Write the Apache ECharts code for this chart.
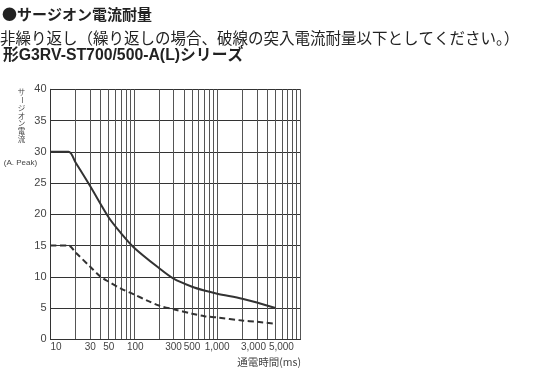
<!DOCTYPE html>
<html><head><meta charset="utf-8">
<script src="https://cdn.jsdelivr.net/npm/echarts@6/dist/echarts.min.js"></script>
<style>html,body{margin:0;padding:0;background:#fff}#c{width:547px;height:378px}</style>
</head><body><div id="c"></div>
<script>
// ---- text ----
const titleMain = '●サージオン電流耐量';
const titleNote = '非繰り返し（繰り返しの場合、破線の突入電流耐量以下としてください。）';
const titleModel = '形G3RV-ST700/500-A(L)シリーズ';
const yTitle = 'サージオン電流';
const yUnit = '(A. Peak)';
const xTitle = '通電時間(ms)';

// ---- data (time in ms, current in A peak) ----
const solidTime    = [10, 16.5, 20, 30, 50, 70, 100, 200, 300, 500, 700, 1000, 2000, 3000, 5000];
const solidCurrent = [30, 30, 28.3, 24.5, 19.5, 17, 14.7, 11.4, 9.7, 8.4, 7.8, 7.3, 6.5, 5.9, 5.0];
const dashTime     = [10, 16.5, 20, 30, 40, 50, 70, 100, 150, 200, 300, 500, 700, 1000, 2000, 3000, 5000];
const dashCurrent  = [15, 15, 13.9, 11.6, 10, 9.2, 8.1, 7.2, 6.1, 5.4, 4.8, 4.1, 3.7, 3.5, 3.0, 2.8, 2.5];

// ---- ticks ----
const xGridValues = [10,20,30,40,50,60,70,80,90,100,200,300,400,500,600,700,800,900,1000,2000,3000,4000,5000,6000,7000,8000,9000,10000];
const xLabelValues = [10, 30, 50, 100, 300, 500, 1000, 3000, 5000];
const yMin = 0, yMax = 40, yStep = 5;

const zip = (a, b) => a.map((v, i) => [v, b[i]]);
const fmtNum = v => String(Math.round(v)).replace(/\B(?=(\d{3})+(?!\d))/g, ',');

const chart = echarts.init(document.getElementById('c'), null, {renderer: 'canvas'});

const gridLeft = 50.5, gridTop = 89.3, gridRight = 246.5, gridBottom = 38.7;

const yTitleEls = Array.from(yTitle).map((ch, i) => ({
  type: 'text',
  x: 21.5, y: 92 + i * 7.9,
  rotation: ch === 'ー' ? -Math.PI / 2 : 0,
  style: {text: ch, font: '7.5px "Noto Sans CJK JP"', fill: '#444', align: 'center', verticalAlign: 'middle'}
}));

chart.setOption({
  animation: false,
  backgroundColor: '#fff',
  grid: {left: gridLeft, top: gridTop, right: gridRight, bottom: gridBottom, show: false},
  xAxis: {
    type: 'log', logBase: 10, min: 10, max: 10000,
    axisLine: {show: true, onZero: false, lineStyle: {color: '#333', width: 1}},
    axisTick: {show: false, customValues: xGridValues},
    splitLine: {show: true, lineStyle: {color: '#555', width: 1}},
    minorTick: {show: false}, minorSplitLine: {show: false},
    axisLabel: {
      customValues: xLabelValues, interval: 0, hideOverlap: false,
      formatter: v => {
        const s = fmtNum(v);
        if (Math.round(v) === 3000) return '{l|' + s + '}';
        if (Math.round(v) === 5000) return '{r|' + s + '}';
        if (Math.round(v) === 100) return '{s|' + s + '}';
        return s;
      },
      rich: {
        l: {fontSize: 10, fontFamily: 'Liberation Sans', color: '#444', padding: [0, 7, 0, 0]},
        r: {fontSize: 10, fontFamily: 'Liberation Sans', color: '#444', padding: [0, 0, 0, 12]},
        s: {fontSize: 10, fontFamily: 'Liberation Sans', color: '#444', padding: [0, 0, 0, 3]}
      },
      color: '#444', fontSize: 10, fontFamily: 'Liberation Sans', margin: 3,
      alignMinLabel: 'left'
    }
  },
  yAxis: {
    type: 'value', min: yMin, max: yMax, interval: yStep,
    axisLine: {show: true, lineStyle: {color: '#333', width: 1}},
    axisTick: {show: false},
    splitLine: {show: true, lineStyle: {color: '#333', width: 1}},
    axisLabel: {color: '#444', fontSize: 11, fontFamily: 'Liberation Sans', margin: 4}
  },
  series: [
    {
      type: 'line', data: zip(solidTime, solidCurrent), symbol: 'none', smooth: 0.3,
      lineStyle: {color: '#333', width: 2}, z: 5
    },
    {
      type: 'line', data: zip(dashTime, dashCurrent), symbol: 'none', smooth: 0.3,
      lineStyle: {color: '#333', width: 2, type: [6, 3.5]}, z: 5
    }
  ],
  graphic: [
    {type: 'text', x: 2, y: 14.5, style: {text: titleMain, font: 'bold 15px "Noto Sans CJK JP"', fill: '#222', verticalAlign: 'middle'}},
    {type: 'text', x: 0, y: 38.5, style: {text: titleNote, font: '15.5px "Noto Sans CJK JP"', fill: '#222', verticalAlign: 'middle'}},
    {type: 'text', x: 3, y: 56, style: {text: titleModel, font: 'bold 15.8px "Liberation Sans", "Noto Sans CJK JP"', fill: '#222', verticalAlign: 'middle'}},
    ...yTitleEls,
    {type: 'text', x: 20.5, y: 163, style: {text: yUnit, font: '8px "Liberation Sans"', fill: '#444', align: 'center', verticalAlign: 'middle'}},
    {type: 'text', x: 301, y: 362.5, style: {text: xTitle, font: '10.5px "Noto Sans CJK JP"', fill: '#444', align: 'right', verticalAlign: 'middle'}}
  ]
});
</script>
</body></html>
